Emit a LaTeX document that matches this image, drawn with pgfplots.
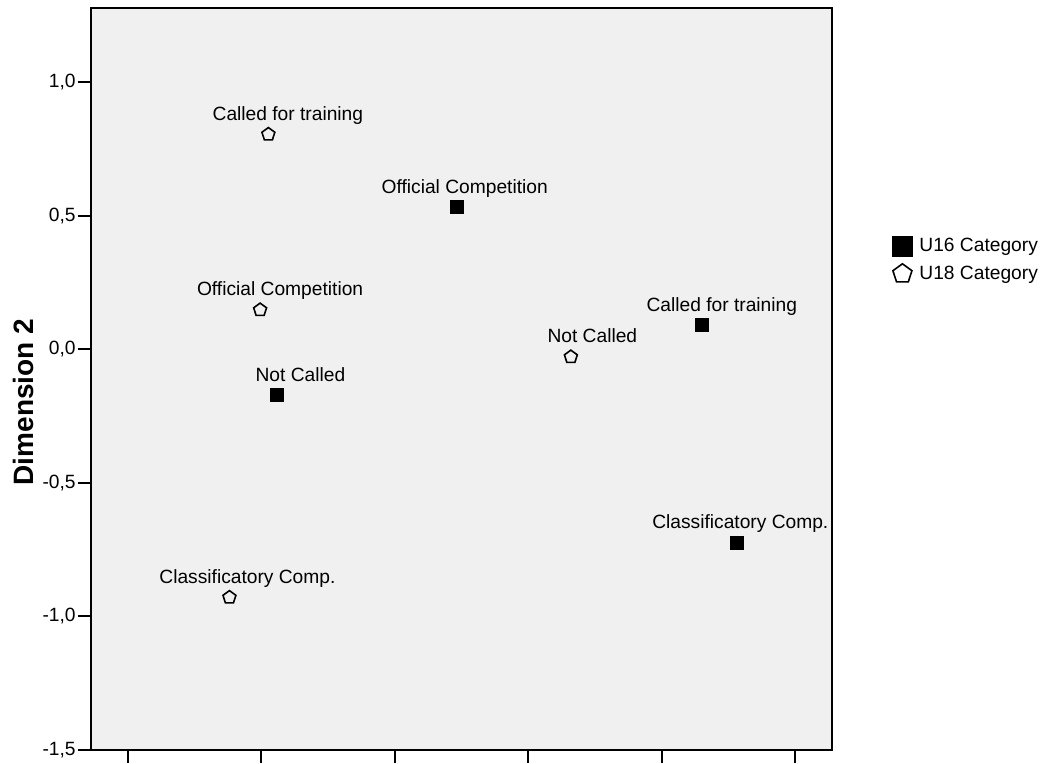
\documentclass[border=0pt]{standalone}
\usepackage{fontspec}
\setmainfont{Liberation Sans}
\usepackage{pgfplots}
\pgfplotsset{compat=1.18}
\usetikzlibrary{calc}

\definecolor{panel}{RGB}{240,240,240}

\newcommand{\lbl}{\fontsize{9.6}{11.5}\selectfont}

\begin{document}
\begin{tikzpicture}
  \begin{axis}[
      name=ax,
      scale only axis,
      width=370.5pt, height=371pt,
      xmin=-1.639, xmax=1.139,
      ymin=-1.5, ymax=1.277,
      axis background/.style={fill=panel},
      axis line style={line width=1pt},
      every tick/.style={line width=1pt, black},
      tick align=outside,
      major tick length=6.5pt,
      tick pos=left,
      xtick={-1.5,-1.0,-0.5,0,0.5,1.0},
      xticklabels={},
      ytick={-1.5,-1.0,-0.5,0,0.5,1.0},
      yticklabel style={
        font=\lbl, inner sep=1pt,
        /pgf/number format/.cd, fixed, fixed zerofill, precision=1,
        use comma, assume math mode=true},
      clip=false,
      legend cell align=left,
      legend style={
        at={(rel axis cs:1.081,0.693)}, anchor=north west,
        draw=none, fill=none, font=\lbl,
        row sep=3.5pt, inner sep=0pt,
        nodes={inner sep=1pt},
        /tikz/every odd column/.append style={column sep=2.5pt},
      },
      legend image post style={mark size=5pt},
    ]
    % U16 Category
    \addplot[only marks, mark=square*, mark size=3.25pt,
             mark options={fill=black, draw=black, line width=0pt}]
      coordinates {
        (-0.268, 0.531)  % Official Competition
        (-0.940,-0.173)  % Not Called
        ( 0.651, 0.089)  % Called for training
        ( 0.784,-0.724)  % Classificatory Comp.
      };
    % U18 Category
    \addplot[only marks, mark=pentagon, mark size=3.4pt,
             mark options={fill=white, draw=black, line width=0.8pt}]
      coordinates {
        (-0.974, 0.804)  % Called for training
        (-1.005, 0.147)  % Official Competition
        ( 0.160,-0.029)  % Not Called
        (-1.120,-0.929)  % Classificatory Comp.
      };
    \legend{U16 Category, U18 Category}

    \coordinate (o) at (rel axis cs:0,0);

    % point labels
    \begin{scope}[every node/.style={font=\lbl, anchor=base, inner sep=0pt, yshift=7pt}]
      \node[xshift=4pt]    at (axis cs:-0.268, 0.531) {Official Competition};
      \node[xshift=11.5pt] at (axis cs:-0.940,-0.173) {Not Called};
      \node[xshift=10pt]   at (axis cs: 0.651, 0.089) {Called for training};
      \node[xshift=1.5pt]  at (axis cs: 0.784,-0.724) {Classificatory Comp.};
      \node[xshift=9.75pt] at (axis cs:-0.974, 0.804) {Called for training};
      \node[xshift=10pt]   at (axis cs:-1.005, 0.147) {Official Competition};
      \node[xshift=10.75pt] at (axis cs: 0.160,-0.029) {Not Called};
      \node[xshift=9pt]    at (axis cs:-1.120,-0.929) {Classificatory Comp.};
    \end{scope}
  \end{axis}

  \node[rotate=90, font=\bfseries\fontsize{14}{16}\selectfont]
    at ($(o)+(-34pt,174pt)$) {Dimension 2};

  \pgfresetboundingbox
  \path[use as bounding box] ($(o)+(-45.5pt,-7pt)$) rectangle ($(o)+(476pt,375pt)$);
\end{tikzpicture}
\end{document}
